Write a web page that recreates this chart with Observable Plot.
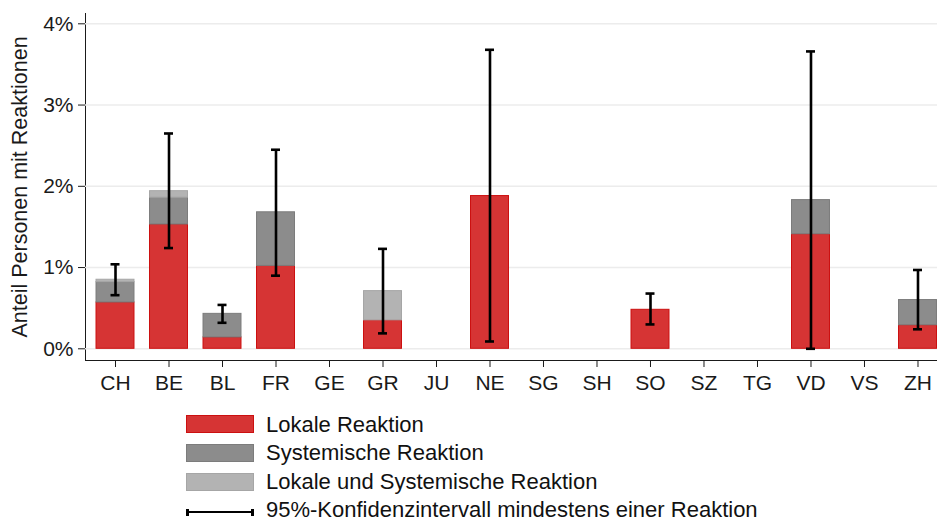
<!DOCTYPE html>
<html>
<head>
<meta charset="utf-8">
<script src="https://cdn.jsdelivr.net/npm/d3@7"></script>
<script src="https://cdn.jsdelivr.net/npm/@observablehq/plot@0.6"></script>
<style>
  html, body { margin: 0; padding: 0; background: #fff; }
  #wrap { position: relative; width: 937px; height: 521px; overflow: hidden; font-family: "Liberation Sans", Arial, sans-serif; color: #111; }
  .sw { position: absolute; left: 186px; width: 68px; box-sizing: border-box; }
  .lt { position: absolute; left: 266px; font-size: 22px; line-height: 22px; white-space: nowrap; }
</style>
</head>
<body>
<div id="wrap">
  <div id="chart"></div>
  <div id="legend"></div>
</div>
<script>
const cantons = ["CH","BE","BL","FR","GE","GR","JU","NE","SG","SH","SO","SZ","TG","VD","VS","ZH"];
const lokale      = [0.57, 1.53, 0.14, 1.02, 0, 0.35, 0, 1.88, 0, 0, 0.48, 0, 0, 1.41, 0, 0.29];
const systemische = [0.25, 0.33, 0.29, 0.66, 0, 0,    0, 0,    0, 0, 0,    0, 0, 0.42, 0, 0.31];
const beide       = [0.03, 0.08, 0,    0,    0, 0.36, 0, 0,    0, 0, 0,    0, 0, 0,    0, 0];
const ciLow  = [0.66, 1.24, 0.32, 0.90, null, 0.19, null, 0.09, null, null, 0.30, null, null, 0.00, null, 0.24];
const ciHigh = [1.04, 2.65, 0.54, 2.45, null, 1.23, null, 3.68, null, null, 0.68, null, null, 3.66, null, 0.97];
const yTicks = [0, 1, 2, 3, 4];
const seriesNames = ["Lokale Reaktion", "Systemische Reaktion", "Lokale und Systemische Reaktion"];
const ciLabel = "95%-Konfidenzintervall mindestens einer Reaktion";
const yTitle = "Anteil Personen mit Reaktionen";

const fills   = ["#d63434", "#8c8c8c", "#b3b3b3"];
const strokes = ["#cc1010", "#7c7c7c", "#a6a6a6"];

// stacked segments
const seriesVals = [lokale, systemische, beide];
const segs = [[], [], []];
cantons.forEach((c, i) => {
  let base = 0;
  seriesVals.forEach((vals, s) => {
    const v = vals[i];
    if (v > 0) segs[s].push({canton: c, y1: base, y2: base + v});
    base += v;
  });
});
const ci = cantons.map((c, i) => ({canton: c, lo: ciLow[i], hi: ciHigh[i]})).filter(d => d.lo != null);

const chart = Plot.plot({
  width: 937,
  height: 400,
  marginLeft: 85,
  marginRight: 0,
  marginTop: 13,
  marginBottom: 40,
  style: {fontFamily: "'Liberation Sans', Arial, sans-serif", fontSize: "21px", color: "#1a1a1a", background: "white", overflow: "visible"},
  x: {type: "band", domain: cantons, range: [80.5, 952], padding: 0.29, align: 0.5, round: false,
      tickSize: 7, tickPadding: 8, line: true, label: null},
  y: {domain: [0, 4], range: [348.3, 23.3], ticks: yTicks, tickFormat: d => d + "%",
      tickSize: 7, tickPadding: 5, line: true, label: null},
  marks: [
    Plot.ruleY(yTicks, {stroke: "#ececec", strokeWidth: 1.6}),
    ...segs.map((data, s) => Plot.barY(data, {x: "canton", y1: "y1", y2: "y2", fill: fills[s], stroke: strokes[s], strokeWidth: 1, inset: 0})),
    Plot.ruleX(ci, {x: "canton", y1: "lo", y2: "hi", stroke: "#000", strokeWidth: 2.6}),
    Plot.tickY(ci, {x: "canton", y: "lo", stroke: "#000", strokeWidth: 2.6, insetLeft: 14.5, insetRight: 14.5}),
    Plot.tickY(ci, {x: "canton", y: "hi", stroke: "#000", strokeWidth: 2.6, insetLeft: 14.5, insetRight: 14.5}),
    Plot.text([yTitle], {frameAnchor: "left", rotate: -90, dx: -65, fontSize: 21.5, textAnchor: "middle", lineAnchor: "middle", fill: "#1a1a1a"})
  ]
});
document.getElementById("chart").appendChild(chart);

// legend
const legend = document.getElementById("legend");
const rowsTop = [415, 444, 472.5];
const textTop = [414.1, 442.4, 471.4];
seriesNames.forEach((name, s) => {
  const sw = document.createElement("div");
  sw.className = "sw";
  sw.style.top = rowsTop[s] + "px";
  sw.style.height = "18px";
  sw.style.background = fills[s];
  sw.style.border = "1px solid " + strokes[s];
  legend.appendChild(sw);
  const t = document.createElement("div");
  t.className = "lt";
  t.style.top = textTop[s] + "px";
  t.textContent = name;
  legend.appendChild(t);
});
// CI legend entry
const ciTop = 512;
const line = document.createElement("div");
line.style.cssText = `position:absolute;left:186px;top:${ciTop - 1.3}px;width:68px;height:2.7px;background:#000`;
legend.appendChild(line);
[186, 251.3].forEach(x => {
  const cap = document.createElement("div");
  cap.style.cssText = `position:absolute;left:${x}px;top:${ciTop - 3.5}px;width:2.7px;height:7px;background:#000`;
  legend.appendChild(cap);
});
const ct = document.createElement("div");
ct.className = "lt";
ct.style.top = "499.4px";
ct.textContent = ciLabel;
legend.appendChild(ct);
</script>
</body>
</html>
